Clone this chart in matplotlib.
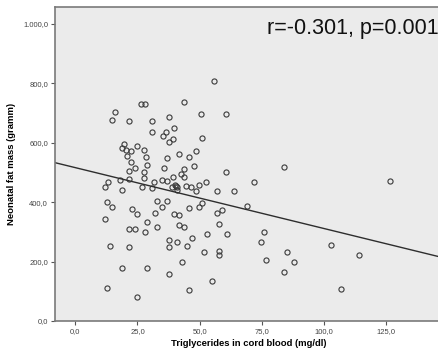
import matplotlib
matplotlib.use("Agg")
from matplotlib import pyplot as plt
from matplotlib.ticker import FuncFormatter
import numpy as np

plt.rcParams['font.family'] = ['Liberation Sans', 'DejaVu Sans']

# triglycerides in cord blood (mg/dl)
trig = [26.5, 28.0, 15.9, 14.9, 21.7, 30.8, 55.8, 43.6, 50.7, 37.7, 60.8,
        30.8, 19.7, 18.9, 20.2, 24.8, 22.6, 27.7, 20.9, 28.5, 22.6, 24.0,
        28.9, 21.7, 27.7, 27.7, 13.0, 11.9, 17.9, 21.7, 26.7, 18.6, 31.7,
        30.9, 34.7, 36.4, 35.1, 39.7, 39.1, 37.7, 50.9, 48.7, 41.7, 45.8,
        36.7, 47.8, 35.7, 43.8, 42.7, 43.8, 39.1, 60.8, 36.7, 40.0, 40.8,
        40.4, 38.8, 40.7, 44.7, 46.7, 49.8, 52.7, 56.8, 63.8, 71.9, 83.8,
        126.7, 48.7,
        12.7, 14.9, 32.8, 36.8, 34.8, 22.9, 24.8, 32.0, 39.7, 41.7, 45.8,
        49.9, 51.0, 56.9, 58.9, 68.9, 11.9, 28.8, 21.8, 24.0, 32.8, 28.0,
        41.7, 43.8, 57.8, 52.9, 60.9, 46.8, 37.7, 40.8, 37.7, 44.8, 13.8,
        21.8, 51.8, 57.8, 57.8, 42.8, 18.8, 28.8, 37.7, 54.8, 12.7, 45.8,
        24.8, 75.9, 74.8, 85.0, 87.9, 76.8, 83.9, 102.9, 113.9, 106.8]

# neonatal fat mass (gramm)
fat = [731, 731, 703, 677, 672, 673, 809, 738, 698, 687, 698,
       637, 595, 582, 576, 588, 572, 577, 556, 553, 534, 516,
       525, 505, 503, 483, 469, 450, 474, 477, 452, 440, 467,
       447, 474, 635, 623, 651, 613, 602, 615, 572, 563, 552,
       550, 521, 514, 511, 494, 485, 486, 503, 471, 458, 452,
       455, 452, 441, 456, 450, 458, 469, 439, 439, 467, 520,
       471, 438,
       402, 384, 404, 404, 384, 376, 359, 363, 359, 357, 379,
       385, 396, 365, 374, 387, 342, 333, 311, 311, 316, 298,
       323, 315, 328, 294, 294, 281, 273, 265, 248, 253, 254,
       248, 232, 236, 221, 200, 180, 179, 158, 135, 110, 104,
       80, 300, 267, 232, 198, 205, 164, 257, 221, 108]

# linear fit line
fit_intercept = 516.3
fit_slope = -2.05

label_text = "r=-0.301, p=0.001"

fig = plt.figure(figsize=(4.39, 3.57), dpi=100)
ax = fig.add_axes([55/439, 36/357, 384/439 + 0.01, 314/357])
ax.set_facecolor('#ebebeb')

ax.plot(trig, fat, linestyle='none', marker='o', ms=3.7, mfc='none',
        mec='#3a3a3a', mew=0.8)

xs = np.array([-10, 160])
ax.plot(xs, fit_intercept + fit_slope * xs, color='#2e2e2e', lw=1.0)

ax.set_xlim(-8.15, 148)
ax.set_ylim(0, 1057)
ax.set_xticks([0, 25, 50, 75, 100, 125])
ax.set_yticks([0, 200, 400, 600, 800, 1000])

def euro(v, pos):
    s = "{:,.1f}".format(v)
    return s.replace(",", "X").replace(".", ",").replace("X", ".")

ax.xaxis.set_major_formatter(FuncFormatter(euro))
ax.yaxis.set_major_formatter(FuncFormatter(euro))
ax.tick_params(labelsize=5.5, labelcolor='#444444', color='#555555',
               length=3, width=0.8, pad=2)

for side in ['left', 'bottom', 'top']:
    ax.spines[side].set_color('#7a7a7a')
    ax.spines[side].set_linewidth(1.2)
ax.spines['right'].set_visible(False)

ax.set_xlabel("Triglycerides in cord blood (mg/dl)", fontsize=6.8,
              fontweight='bold', labelpad=3)
ax.set_ylabel("Neonatal fat mass (gramm)", fontsize=6.8,
              fontweight='bold', labelpad=5)

ax.text(0.545, 0.965, label_text, transform=ax.transAxes, fontsize=15.5,
        ha='left', va='top', color='#111111')

fig.savefig("out.png", dpi=100)
